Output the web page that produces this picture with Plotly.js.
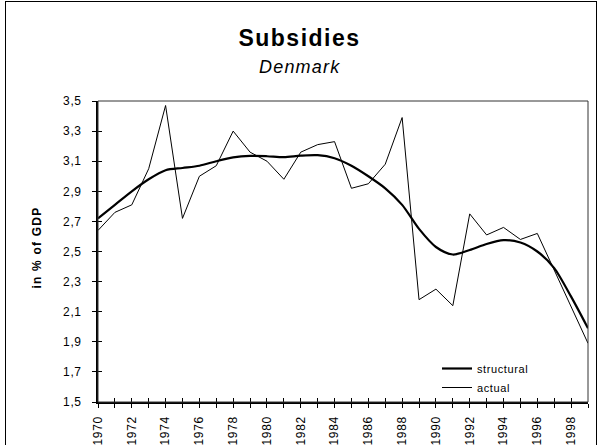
<!DOCTYPE html>
<html>
<head>
<meta charset="utf-8">
<script src="https://cdn.plot.ly/plotly-3.0.1.min.js"></script>
<style>
  html, body { margin: 0; padding: 0; background: #fff; }
  #wrap { position: relative; width: 599px; height: 445px; overflow: hidden; }
  #chart { width: 599px; height: 445px; }
  #frame { position: absolute; left: 5px; top: 1px; width: 592px; height: 460px;
           border: 1px solid #000; pointer-events: none; box-sizing: border-box; }
  .gtitle { letter-spacing: 1.5px; }
  .annotation-text { letter-spacing: 1.2px; }
  .ytick text, .xtick text { letter-spacing: 0.6px; }
  .legendtext { letter-spacing: 0.6px; }
</style>
</head>
<body>
<div id="wrap">
  <div id="chart"></div>
  <div id="frame"></div>
</div>
<script>
const years = [1970,1971,1972,1973,1974,1975,1976,1977,1978,1979,
               1980,1981,1982,1983,1984,1985,1986,1987,1988,1989,
               1990,1991,1992,1993,1994,1995,1996,1997,1998,1999];
const structural = [2.72,2.81,2.90,2.98,3.04,3.055,3.07,3.10,3.125,3.135,
                    3.133,3.127,3.137,3.14,3.12,3.07,3.00,2.92,2.81,2.65,
                    2.53,2.48,2.51,2.55,2.575,2.56,2.50,2.39,2.20,1.99];
const actual = [2.64,2.76,2.81,3.05,3.47,2.72,3.00,3.07,3.30,3.16,
                3.10,2.98,3.16,3.21,3.23,2.92,2.95,3.08,3.39,2.18,
                2.25,2.14,2.75,2.61,2.66,2.58,2.62,2.38,2.13,1.89];
const seriesNames = ["structural", "actual"];
const chartTitle = "Subsidies";
const chartSubtitle = "Denmark";
const yTitle = "in % of GDP";

const FONT = "Arial, 'Liberation Sans', sans-serif";
const xr = [years[0], years[years.length - 1]];
const yr = [1.5, 3.5];

const traces = [
  { x: years, y: structural, name: seriesNames[0], type: "scatter", mode: "lines",
    line: { color: "#000", width: 2.2, shape: "spline", smoothing: 0.8 },
    xaxis: "x", yaxis: "y" },
  { x: years, y: actual, name: seriesNames[1], type: "scatter", mode: "lines",
    line: { color: "#000", width: 1 },
    xaxis: "x2", yaxis: "y2" }
];

const layout = {
  width: 599, height: 445,
  margin: { l: 98, r: 11, t: 101, b: 43 },
  paper_bgcolor: "#fff", plot_bgcolor: "#fff",
  separators: ",.",
  font: { family: FONT, color: "#000", size: 12 },
  showlegend: true,
  title: { text: "<b>" + chartTitle + "</b>", font: { family: FONT, size: 23, color: "#000" },
           x: 0.5, xref: "container", y: 1 - 38/445, yref: "container", yanchor: "middle" },
  xaxis: {
    range: xr, showgrid: false, zeroline: false,
    showline: true, linecolor: "#000", linewidth: 1.5,
    tick0: 1970, dtick: 2, ticks: "outside", ticklen: 4, tickwidth: 1, tickcolor: "#000",
    tickangle: -90, tickfont: { family: FONT, size: 12 }, ticklabelstandoff: 4,
    minor: { dtick: 1, tick0: 1970, ticks: "outside", ticklen: 4, tickwidth: 1, tickcolor: "#000", showgrid: false },
    fixedrange: true
  },
  yaxis: {
    range: yr, showgrid: false, zeroline: false,
    showline: true, linecolor: "#000", linewidth: 2,
    tick0: 1.5, dtick: 0.2, tickformat: ".1f",
    ticks: "outside", ticklen: 4, tickwidth: 1, tickcolor: "#000",
    tickfont: { family: FONT, size: 12 }, ticklabelstandoff: 8,
    fixedrange: true
  },
  xaxis2: {
    overlaying: "x", range: xr, showgrid: false, zeroline: false, showline: false,
    tick0: 1970, dtick: 1, ticks: "inside", ticklen: 4, tickwidth: 1, tickcolor: "#000",
    showticklabels: false, fixedrange: true
  },
  yaxis2: {
    overlaying: "y", range: yr, showgrid: false, zeroline: false, showline: false,
    tick0: 1.5, dtick: 0.2, ticks: "inside", ticklen: 4, tickwidth: 1, tickcolor: "#000",
    showticklabels: false, fixedrange: true
  },
  shapes: [
    { type: "rect", xref: "paper", yref: "paper", x0: 0, x1: 1, y0: 0, y1: 1,
      line: { color: "#333", width: 1 }, fillcolor: "rgba(0,0,0,0)", layer: "above" }
  ],
  annotations: [
    { text: "<i>" + chartSubtitle + "</i>", xref: "paper", yref: "paper",
      x: (299.5 - 98) / 490, y: 1 + (101 - 67) / 301, xanchor: "center", yanchor: "middle",
      showarrow: false, font: { family: FONT, size: 18, color: "#000" } },
    { text: "<b>" + yTitle + "</b>", xref: "paper", yref: "paper",
      x: (36 - 98) / 490, y: 0.5 + 4 / 301, xanchor: "center", yanchor: "middle", textangle: -90,
      showarrow: false, font: { family: FONT, size: 12, color: "#000" } }
  ],
  legend: {
    x: (437 - 98) / 490, y: (402 - 354) / 301, xanchor: "left", yanchor: "top",
    bgcolor: "rgba(0,0,0,0)", borderwidth: 0,
    font: { family: FONT, size: 11, color: "#000" },
    tracegroupgap: 0, itemwidth: 30
  }
};

Plotly.newPlot("chart", traces, layout, { displayModeBar: false, staticPlot: true });
</script>
</body>
</html>
